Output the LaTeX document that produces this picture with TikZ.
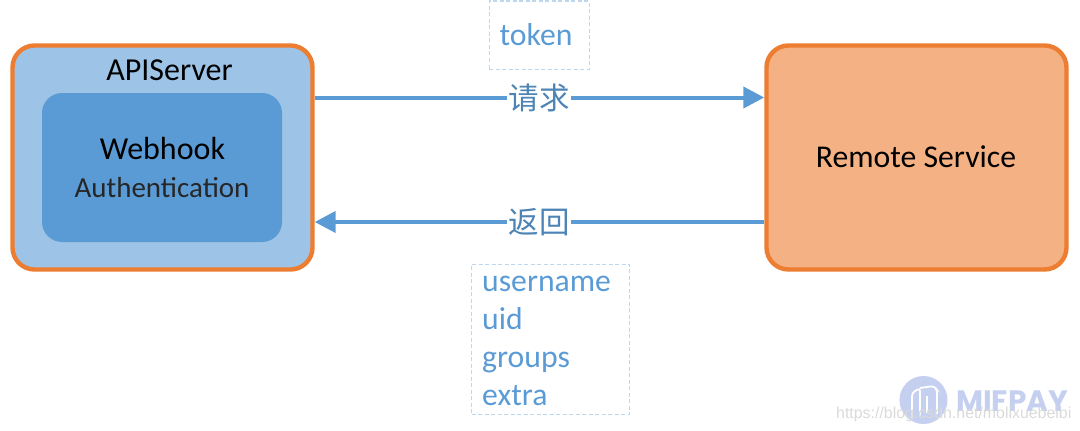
\documentclass[tikz,border=0pt]{standalone}
\usepackage{fontspec}
\setmainfont{Carlito}
\newfontfamily\cjk{Noto Sans CJK SC}
\newfontfamily\wm{Liberation Sans}
\newfontfamily\wmb{Poppins}[Scale=1]
\definecolor{orangeline}{HTML}{ED7D31}
\definecolor{lightblue}{HTML}{9DC3E6}
\definecolor{midblue}{HTML}{5B9BD5}
\definecolor{peach}{HTML}{F4B183}
\definecolor{dashblue}{HTML}{BDD7EE}
\definecolor{wmblue}{HTML}{C5CFF0}
\definecolor{wmgrey}{HTML}{DADADA}
\usetikzlibrary{arrows.meta}
\tikzset{
  bigbox/.style={draw=orangeline,line width=4.4pt,rounded corners=22pt,minimum width=300pt,minimum height=224pt,inner sep=0pt},
  innerbox/.style={fill=midblue,rounded corners=20pt,minimum width=240pt,minimum height=149pt,inner sep=0pt},
  dashbox/.style={draw=dashblue,line width=1pt,dash pattern=on 4pt off 2.5pt,inner sep=0pt},
  link/.style={draw=midblue,line width=4pt,-{Triangle[length=21pt,width=21pt]}},
  linklabel/.style={fill=white,inner sep=0pt,minimum width=64pt,minimum height=30pt,text=midblue!85!black,font=\cjk\fontsize{30.5}{30.5}\selectfont},
  bluetext/.style={text=midblue,font=\fontsize{31.7}{36}\selectfont,inner sep=0pt},
  blacktext/.style={text=black,inner sep=0pt}
}
\begin{document}
\begin{tikzpicture}[x=1pt,y=-1pt]
\useasboundingbox (0,0) rectangle (1080,431);
\node[bigbox,fill=lightblue] (api) at (162.5,157.5) {};
\node[bigbox,fill=peach] (remote) at (916.5,157.5) {};
\node[innerbox] (inner) at (162,167.5) {};
\node[blacktext,font=\fontsize{32}{32}\selectfont] (apilabel) at (169.5,70) {APIServer};
\node[blacktext,font=\fontsize{32}{32}\selectfont] (hook) at (162.5,148) {Webhook};
\node[blacktext,font=\fontsize{29}{29}\selectfont,text=black!85] (auth) at (162,188) {Authentication};
\node[blacktext,font=\fontsize{31.7}{32}\selectfont] (rs) at (916,157) {Remote Service};
\node[dashbox,minimum width=100pt,minimum height=68pt] (tokenbox) at (539,35) {};
\node[bluetext] (token) at (536,35) {token};
\node[dashbox,minimum width=158pt,minimum height=150pt] (userbox) at (550.5,339) {};
\node[bluetext,anchor=base west] (u1) at (482,291) {username};
\node[bluetext,anchor=base west] (u2) at (482,329) {uid};
\node[bluetext,anchor=base west] (u3) at (482,367) {groups};
\node[bluetext,anchor=base west] (u4) at (482,405) {extra};
\coordinate (rq) at (539,97.5);
\coordinate (rt) at (539,222);
\draw[link] (api.east |- rq) -- (remote.west |- rq);
\draw[link] (remote.west |- rt) -- (api.east |- rt);
\node[linklabel] (req) at (rq) {请求};
\node[linklabel] (ret) at (rt) {返回};
% watermark
\node[circle,fill=wmblue,minimum size=48pt,inner sep=0pt] (wmc) at (923.5,400) {};
\draw[white,line width=1.8pt,rounded corners=3pt] (912,418) -- (912,393) -- (920,388) -- (920,416);
\draw[white,line width=1.8pt,rounded corners=3pt] (920,388) -- (934,386) -- (937,390) -- (937,414);
\draw[white,line width=1.8pt] (927,396) -- (927,413);
\node[text=wmblue,inner sep=0pt,anchor=west,font=\wmb\bfseries\fontsize{29.5}{30}\selectfont] (mif) at (956,401) {MIFPAY};
\node[text=wmgrey,inner sep=0pt,anchor=base west,font=\wm\fontsize{15.9}{16}\selectfont] (url) at (836,418) {https://blog.csdn.net/molixuebeibi};
\end{tikzpicture}
\end{document}
